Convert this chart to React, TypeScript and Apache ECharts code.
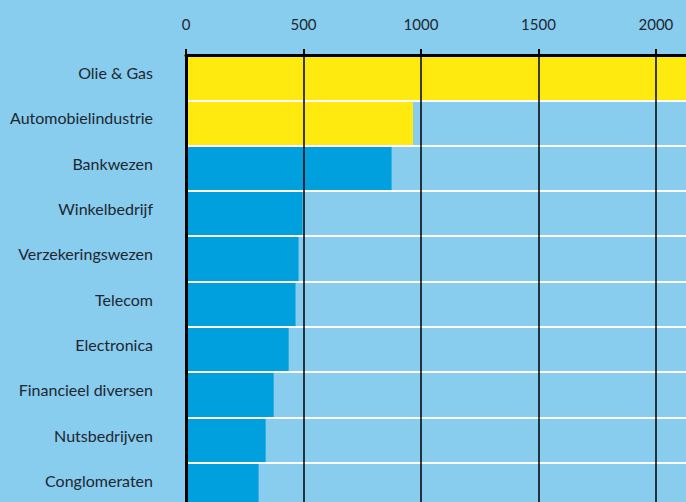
import React, { useEffect, useRef } from "react";
import * as echarts from "echarts";

const categories = [
  "Olie & Gas",
  "Automobielindustrie",
  "Bankwezen",
  "Winkelbedrijf",
  "Verzekeringswezen",
  "Telecom",
  "Electronica",
  "Financieel diversen",
  "Nutsbedrijven",
  "Conglomeraten",
];
const values = [2300, 966, 875, 496, 479, 466, 437, 373, 339, 309];
const highlighted = [true, true, false, false, false, false, false, false, false, false];
const xTicks = [0, 500, 1000, 1500, 2000];

const BG = "#88CCEE";
const YELLOW = "#FFEA10";
const BLUE = "#009FDE";
const TEXT = "#1d2731";
const FONT = "Lato";

export default function App() {
  const ref = useRef<HTMLDivElement>(null);
  useEffect(() => {
    if (!ref.current) return;
    const chart = echarts.init(ref.current, undefined, { renderer: "svg" });
    chart.setOption({
      animation: false,
      backgroundColor: BG,
      grid: { left: 186, top: 55, width: 500, height: 453, containLabel: false },
      xAxis: {
        type: "value",
        position: "top",
        min: 0,
        max: 2128,
        interval: 500,
        z: 10,
        axisLine: { show: true, lineStyle: { color: "#000", width: 3 } },
        axisTick: { show: true, length: 6, lineStyle: { color: "#000", width: 2 } },
        axisLabel: {
          margin: 24,
          color: TEXT,
          fontFamily: FONT,
          fontSize: 15,
          showMaxLabel: false,
          formatter: (v: number) => (xTicks.indexOf(v) >= 0 ? String(v) : ""),
        },
        splitLine: { show: true, showMaxLine: false, lineStyle: { color: "#000", width: 1.5 } },
      },
      yAxis: {
        type: "category",
        data: categories,
        inverse: true,
        z: 9,
        axisLine: { show: true, lineStyle: { color: "#000", width: 3 } },
        axisTick: { show: false },
        axisLabel: {
          margin: 33,
          color: TEXT,
          fontFamily: FONT,
          fontSize: 16,
          lineHeight: 10,
          verticalAlign: "bottom",
        },
        splitLine: { show: true, lineStyle: { color: "#ffffff", width: 2 } },
      },
      series: [
        {
          type: "bar",
          barCategoryGap: "0%",
          data: values.map((v, i) => ({
            value: v,
            itemStyle: { color: highlighted[i] ? YELLOW : BLUE },
          })),
        },
      ],
    });
    return () => chart.dispose();
  }, []);
  return (
    <div
      style={{
        position: "fixed",
        left: 0,
        top: 0,
        width: 686,
        height: 502,
        overflow: "hidden",
        background: BG,
      }}
    >
      <div ref={ref} style={{ width: 686, height: 512 }} />
    </div>
  );
}
